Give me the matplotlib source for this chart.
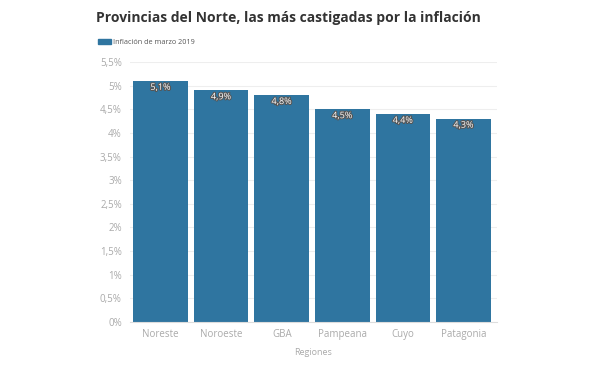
import matplotlib
matplotlib.use("Agg")
import matplotlib.pyplot as plt
import matplotlib.patheffects as pe
from matplotlib.patches import Patch

plt.rcParams['font.family'] = ['Open Sans', 'DejaVu Sans']

# Data
regiones = ["Noreste", "Noroeste", "GBA", "Pampeana", "Cuyo", "Patagonia"]
inflacion = [5.1, 4.9, 4.8, 4.5, 4.4, 4.3]
yticks = [0, 0.5, 1, 1.5, 2, 2.5, 3, 3.5, 4, 4.5, 5, 5.5]

color = "#2f75a0"
gray = "#aaaaaa"

fig = plt.figure(figsize=(6, 3.65), dpi=100)
ax = fig.add_axes([0.217, 0.118, 0.611, 0.712])

x = range(len(regiones))
ax.bar(x, inflacion, width=0.9, color=color, zorder=2)

for i, v in zip(x, inflacion):
    ax.text(i, v - 0.04, f"{v:.1f}%".replace(".", ","), ha="center", va="top",
            fontsize=6.5, color="white", zorder=3,
            path_effects=[pe.withStroke(linewidth=1.5, foreground="#555555")])

ax.set_ylim(0, 5.5)
ax.set_xlim(-0.5, 5.55)
ax.set_yticks(yticks)
ax.set_yticklabels([f"{t:g}%".replace(".", ",") for t in yticks])
ax.set_xticks(list(x))
ax.set_xticklabels(regiones)
ax.tick_params(axis="both", length=0, colors=gray, labelsize=7)
ax.tick_params(axis="y", pad=6)
ax.tick_params(axis="x", pad=5)
ax.grid(axis="y", color="#eeeeee", linewidth=0.8, zorder=0)
for s in ["top", "right", "left"]:
    ax.spines[s].set_visible(False)
ax.spines["bottom"].set_color("#dddddd")
ax.set_xlabel("Regiones", color=gray, fontsize=6.5, labelpad=6)

fig.text(0.16, 0.952, "Provincias del Norte, las más castigadas por la inflación",
         fontsize=10, fontweight="bold", color="#333333", va="center")

ax.legend(handles=[Patch(color=color, label="Inflación de marzo 2019")],
          loc="lower left", bbox_to_anchor=(0.158, 0.865), bbox_transform=fig.transFigure,
          frameon=False, fontsize=5.2, labelcolor="#555555",
          handlelength=1.8, handleheight=0.7, handletextpad=0.3, borderaxespad=0)

fig.savefig("out.png", dpi=100)
